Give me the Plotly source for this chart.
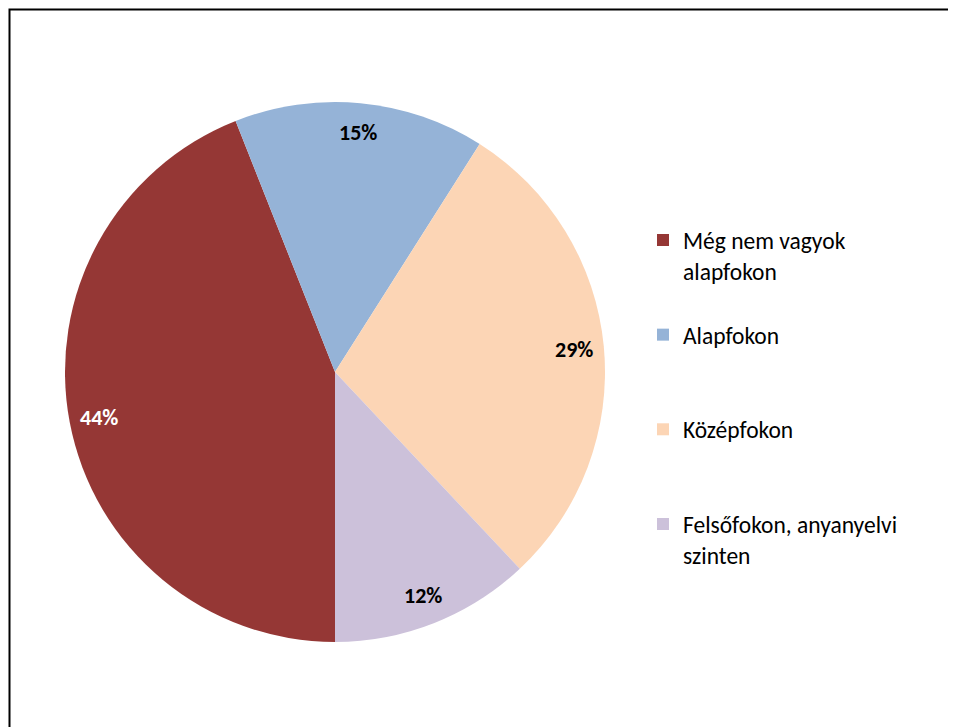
import numpy as np
import plotly.graph_objects as go

# data
categories = [
    "Még nem vagyok alapfokon",
    "Alapfokon",
    "Középfokon",
    "Felsőfokon, anyanyelvi szinten",
]
values = [44, 15, 29, 12]
colors = ["#953735", "#95B3D7", "#FCD5B5", "#CCC1DA"]
label_colors = ["white", "black", "black", "black"]

# legend text: wrapped, padded with blank lines so the square sits on the
# first line and every entry has the same height
legend_text = [
    " <br>Még nem vagyok<br>alapfokon",
    " <br>Alapfokon<br> ",
    " <br>Középfokon<br> ",
    " <br>Felsőfokon, anyanyelvi<br>szinten",
]

W, H = 956, 727
OFF = 8  # the page body margin shifts the figure by this many px
FONT = "Carlito, Calibri, Lato, sans-serif"
CX, CY, R = 335 - OFF, 372 - OFF, 270  # pie centre / radius in px
ROTATION = 180
LABEL_R = 0.89

fig = go.Figure()
fig.add_trace(
    go.Pie(
        labels=legend_text,
        values=values,
        sort=False,
        direction="clockwise",
        rotation=ROTATION,
        marker=dict(colors=colors, line=dict(width=0)),
        textinfo="none",
        hoverinfo="skip",
        domain=dict(
            x=[(CX - R) / W, (CX + R) / W],
            y=[1 - (CY + R) / H, 1 - (CY - R) / H],
        ),
    )
)

# percentage labels near the outer edge, along each slice bisector
vals = np.array(values, dtype=float)
frac = vals / vals.sum()
mid = ROTATION + 360 * (np.cumsum(frac) - frac / 2)
for p, a, c in zip(frac, np.radians(mid), label_colors):
    fig.add_annotation(
        x=(CX + LABEL_R * R * np.sin(a)) / W,
        y=1 - (CY - LABEL_R * R * np.cos(a)) / H,
        xref="paper",
        yref="paper",
        text=f"<b>{p * 100:.0f}%</b>",
        showarrow=False,
        font=dict(family=FONT, size=22, color=c),
        xanchor="center",
        yanchor="middle",
    )

# chart-area border (only top and left edges fall inside the picture)
fig.add_shape(
    type="rect",
    xref="paper",
    yref="paper",
    x0=(9.5 - OFF) / W,
    x1=1.05,
    y0=-0.05,
    y1=1 - (9.5 - OFF) / H,
    line=dict(color="black", width=2),
)

LEG_FONT = 23.5
item_h = 3 * LEG_FONT * 1.3 + 3
leg_top = 240 - OFF - item_h / 2 - 5

fig.update_layout(
    width=W,
    height=H,
    margin=dict(l=0, r=0, t=0, b=0),
    paper_bgcolor="white",
    plot_bgcolor="white",
    font=dict(family=FONT, color="black"),
    showlegend=True,
    legend=dict(
        x=(643 - OFF) / W,
        xanchor="left",
        y=1 - leg_top / H,
        yanchor="top",
        font=dict(family=FONT, size=LEG_FONT, color="black"),
        bgcolor="rgba(0,0,0,0)",
        traceorder="normal",
    ),
)

fig.write_html("out.html")
